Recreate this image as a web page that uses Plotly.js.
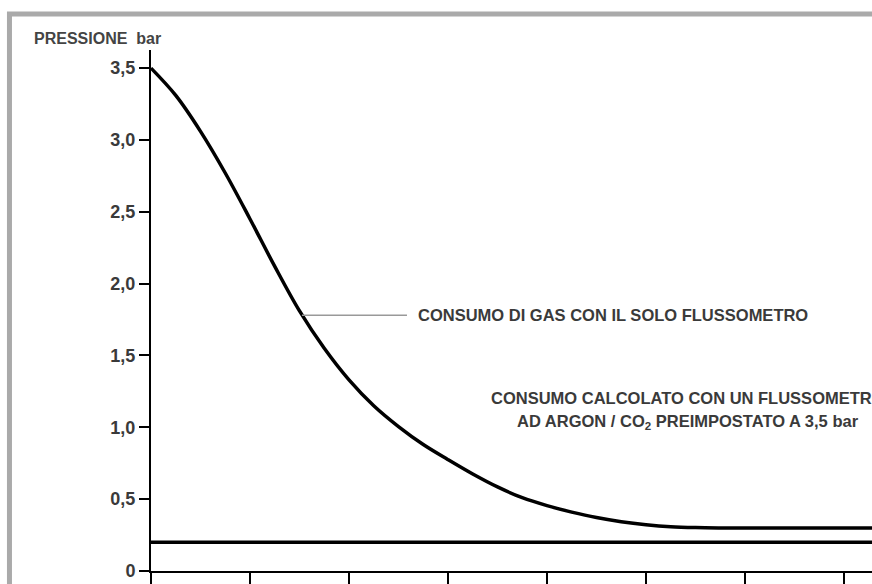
<!DOCTYPE html>
<html>
<head>
<meta charset="utf-8">
<script src="https://cdn.plot.ly/plotly-3.0.1.min.js"></script>
<style>html,body{margin:0;padding:0;background:#fff;overflow:hidden}</style>
</head>
<body>
<div id="chart" style="width:872px;height:584px"></div>
<script>
// Data
const curveX = [0, 0.25, 0.5, 0.75, 1.0, 1.25, 1.5, 1.75, 2.0, 2.25, 2.5, 2.75, 3.0, 3.25, 3.5, 3.75, 4.0, 4.25, 4.5, 4.75, 5.0, 5.25, 5.5, 5.75, 7.3];
const curveY = [3.5, 3.31, 3.06, 2.77, 2.45, 2.12, 1.81, 1.55, 1.33, 1.15, 1.005, 0.88, 0.775, 0.675, 0.585, 0.51, 0.455, 0.41, 0.372, 0.343, 0.322, 0.308, 0.302, 0.30, 0.30];
const baseX = [0, 7.3];
const baseY = [0.2, 0.2];
const yTickVals = [0, 0.5, 1.0, 1.5, 2.0, 2.5, 3.0, 3.5];
const yTickText = ['0', '0,5', '1,0', '1,5', '2,0', '2,5', '3,0', '3,5'];
const xTickVals = [0, 1, 2, 3, 4, 5, 6, 7];
const yAxisLabel = 'PRESSIONE&nbsp;&nbsp;bar';
const label1 = 'CONSUMO DI GAS CON IL SOLO FLUSSOMETRO';
const label1Point = [1.525, 1.78];
const label2a = 'CONSUMO CALCOLATO CON UN FLUSSOMETRO';
const label2b = 'AD ARGON / CO<sub>2</sub> PREIMPOSTATO A 3,5 bar';
const label2aPos = [5.424, 1.202];
const label2bPos = [5.424, 1.039];

const FONT = 'Liberation Sans, Arial, Helvetica, sans-serif';
const TXT = {family: FONT, size: 16.5, color: '#3a3a3a', weight: 700};

const traces = [
  {x: curveX, y: curveY, type: 'scatter', mode: 'lines',
   line: {color: '#000', width: 3.5, shape: 'spline', smoothing: 1}, hoverinfo: 'skip', cliponaxis: false},
  {x: baseX, y: baseY, type: 'scatter', mode: 'lines',
   line: {color: '#000', width: 3.5}, hoverinfo: 'skip'}
];

const layout = {
  width: 872, height: 584,
  margin: {l: 151, r: 0, t: 50, b: 13, pad: 0},
  paper_bgcolor: '#fff', plot_bgcolor: '#fff',
  showlegend: false,
  font: {family: FONT, color: '#333'},
  xaxis: {range: [0, 7.283], showgrid: false, zeroline: false, showline: true,
          linecolor: '#000', linewidth: 2, ticks: 'outside', ticklen: 13, tickwidth: 2,
          tickcolor: '#000', tickvals: xTickVals, showticklabels: false, fixedrange: true},
  yaxis: {range: [0, 3.626], showgrid: false, zeroline: false, showline: true,
          linecolor: '#000', linewidth: 2, ticks: 'outside', ticklen: 10, tickwidth: 2,
          tickcolor: '#000', tickvals: yTickVals, ticktext: yTickText,
          tickfont: {family: FONT, size: 18, color: '#3a3a3a', weight: 700}, fixedrange: true},
  shapes: [
    {type: 'rect', xref: 'paper', yref: 'paper', x0: -0.1963, x1: 1.3, y0: -0.3, y1: 1.069,
     line: {color: '#aaaaaa', width: 5}, fillcolor: 'rgba(0,0,0,0)'}
  ],
  annotations: [
    {xref: 'paper', yref: 'paper', x: -0.1651, y: 1.023, xanchor: 'left', yanchor: 'middle',
     text: yAxisLabel, showarrow: false, font: {family: FONT, size: 16, color: '#444', weight: 700}},
    {x: label1Point[0], y: label1Point[1], xref: 'x', yref: 'y', text: label1,
     showarrow: true, arrowhead: 0, arrowwidth: 1.5, arrowcolor: '#999', ax: 105, ay: 0,
     xanchor: 'left', yanchor: 'middle', standoff: 0, borderpad: 10, font: TXT},
    {x: label2aPos[0], y: label2aPos[1], xref: 'x', yref: 'y', text: label2a, showarrow: false,
     xanchor: 'center', yanchor: 'middle', font: TXT},
    {x: label2bPos[0], y: label2bPos[1], xref: 'x', yref: 'y', text: label2b, showarrow: false,
     xanchor: 'center', yanchor: 'middle', font: TXT}
  ]
};

Plotly.newPlot('chart', traces, layout, {staticPlot: true, displayModeBar: false});
</script>
</body>
</html>
